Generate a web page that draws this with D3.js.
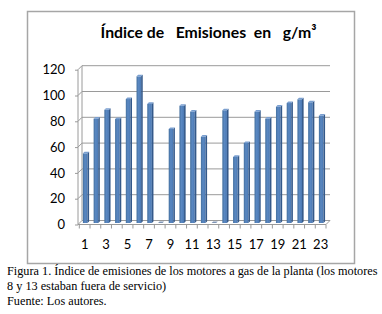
<!DOCTYPE html>
<html><head><meta charset="utf-8">
<script src="https://cdn.jsdelivr.net/npm/d3@7"></script>
<style>
html,body{margin:0;padding:0;background:#fff;}
svg{display:block;}
</style></head>
<body>
<script>
const categories = ["1","2","3","4","5","6","7","8","9","10","11","12","13","14","15","16","17","18","19","20","21","22","23"];
const values = [53.6,80.5,87.4,80.2,95.7,113.3,91.9,0,72.5,90.5,85.9,66.5,0,87,50.8,61.6,85.9,80.5,89.8,92.6,95.5,93.2,82.8];
const yTicks = [0,20,40,60,80,100,120];
const titleText = "Índice de   Emisiones  en   g/m³";
const captionLines = [
  "Figura 1. Índice de emisiones de los motores a gas de la planta (los motores",
  "8 y 13 estaban fuera de servicio)",
  "Fuente: Los autores."
];

const W = 382, H = 314;
const svg = d3.select("body").append("svg").attr("width", W).attr("height", H);

// outer frame
svg.append("rect").attr("x",27.5).attr("y",11.5).attr("width",327).attr("height",252)
  .attr("fill","#fff").attr("stroke","#a6a6a6").attr("stroke-width",1.5);

const dx = 4, dy = -4;
const x = d3.scaleBand().domain(categories).range([79.3, 326]).padding(0);
const y = d3.scaleLinear().domain([0,120]).range([224.5, 69.7]);

const grid = svg.append("g");
yTicks.forEach(t => {
  grid.append("line").attr("x1",78+dx).attr("x2",326+dx)
    .attr("y1",y(t)+dy).attr("y2",y(t)+dy).attr("stroke","#9a9a9a").attr("stroke-width",1);
  grid.append("line").attr("x1",78).attr("x2",78+dx)
    .attr("y1",y(t)).attr("y2",y(t)+dy).attr("stroke","#9a9a9a").attr("stroke-width",1);
});
grid.append("line").attr("x1",78+dx).attr("x2",78+dx).attr("y1",y(120)+dy).attr("y2",y(0)+dy)
  .attr("stroke","#9a9a9a");
grid.append("line").attr("x1",326).attr("x2",326+dx).attr("y1",y(0)).attr("y2",y(0)+dy)
  .attr("stroke","#9a9a9a");

const defs = svg.append("defs");
const grad = defs.append("linearGradient").attr("id","bg").attr("x1","0").attr("x2","1").attr("y1","0").attr("y2","0");
grad.append("stop").attr("offset","0").attr("stop-color","#44709f");
grad.append("stop").attr("offset","0.45").attr("stop-color","#5a88c2");
grad.append("stop").attr("offset","1").attr("stop-color","#4b79b3");

const bw = 4.6, side = 1.6, sOff = 1.6;
const barG = svg.append("g");
categories.forEach((c,i) => {
  const v = values[i];
  const x0 = x(c) + 3.6;
  const top = y(v) - 2;
  const bot = y(0) - 1.5;
  if (v > 0) {
    barG.append("rect").attr("x",x0).attr("y",top).attr("width",bw).attr("height",bot-top)
      .attr("fill","url(#bg)");
    barG.append("path").attr("d",`M${x0+bw},${top} L${x0+bw+side},${top-sOff} L${x0+bw+side},${bot-sOff} L${x0+bw},${bot} Z`)
      .attr("fill","#34598a");
    barG.append("path").attr("d",`M${x0},${top} L${x0+side},${top-sOff} L${x0+bw+side},${top-sOff} L${x0+bw},${top} Z`)
      .attr("fill","#7a9fd0");
  } else {
    barG.append("path").attr("d",`M${x0},${bot} L${x0+side},${bot-sOff} L${x0+bw+side},${bot-sOff} L${x0+bw},${bot} Z`)
      .attr("fill","#7f95b5");
  }
});

const yAxis = d3.axisLeft(y).tickValues(yTicks).tickSize(3).tickPadding(10);
const ya = svg.append("g").attr("transform","translate(78,0)").call(yAxis);
ya.select(".domain").attr("stroke","#9a9a9a").attr("d",`M-0.0,${y(120)}V${y(0)}`);
ya.selectAll(".tick line").attr("stroke","#9a9a9a");
ya.selectAll(".tick text").attr("font-family","Lato, 'Open Sans', sans-serif").attr("font-size","13px").attr("fill","#000");

const xAxis = d3.axisBottom(x).tickSize(0).tickPadding(0).tickFormat((d,i) => i%2===0 ? d : "");
const xa = svg.append("g").attr("transform",`translate(0,${y(0)})`).call(xAxis);
xa.select(".domain").attr("stroke","#9a9a9a").attr("d",`M78,0H326`);
xa.selectAll(".tick text").attr("font-family","Lato, 'Open Sans', sans-serif").attr("font-size","13px").attr("fill","#000")
  .attr("dy","0").attr("y",24);
const bounds = categories.map(c => x(c)).concat([x.range()[1]]);
xa.selectAll(".btick").data(bounds).enter().append("line").attr("class","btick")
  .attr("x1",d=>d).attr("x2",d=>d).attr("y1",0).attr("y2",4).attr("stroke","#9a9a9a");

svg.append("text").attr("x",208.5).attr("y",38).attr("text-anchor","middle")
  .attr("font-family","Lato, 'Open Sans', sans-serif").attr("font-weight","bold").attr("font-size","15.8px")
  .attr("fill","#000").style("white-space","pre").attr("xml:space","preserve").text(titleText);

captionLines.forEach((t,i) => {
  svg.append("text").attr("x",7).attr("y",275 + i*15)
    .attr("font-family","'Liberation Serif', 'Times New Roman', serif").attr("font-size","12.25px")
    .attr("fill","#000").text(t);
});
</script>
</body></html>
